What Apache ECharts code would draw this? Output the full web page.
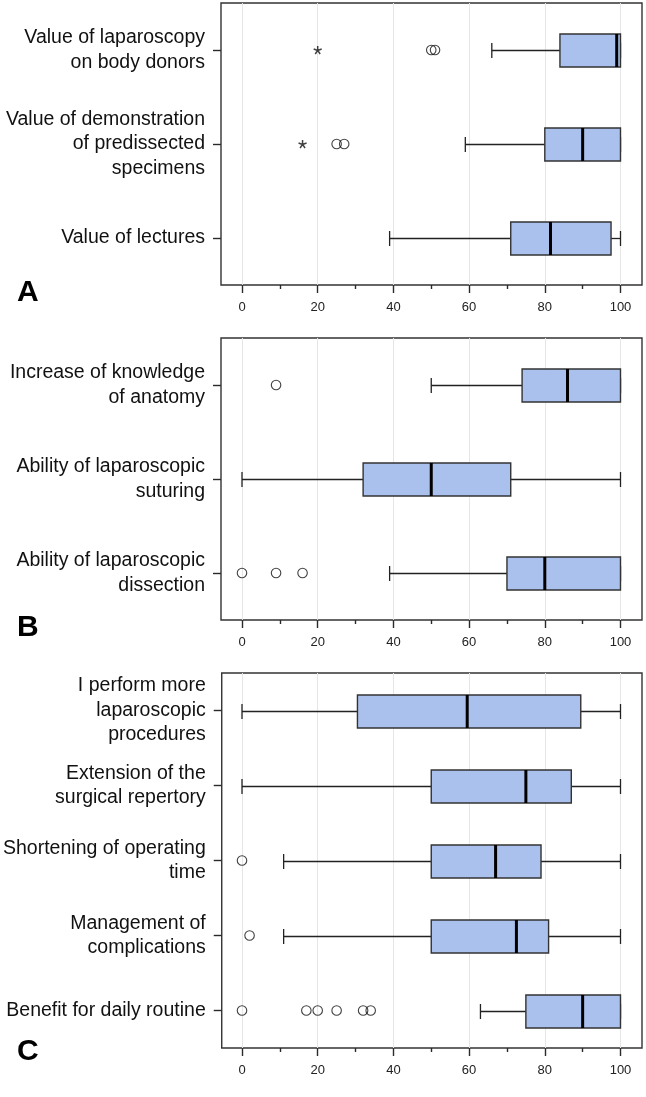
<!DOCTYPE html>
<html>
<head>
<meta charset="utf-8">
<script src="https://cdn.jsdelivr.net/npm/echarts@6/dist/echarts.min.js"></script>
<style>
html,body{margin:0;padding:0;background:#fff;}
#chart{width:646px;height:1097px;}
</style>
</head>
<body>
<div id="chart"></div>
<script>
// ---------- DATA ----------
const xTicks = [0, 20, 40, 60, 80, 100];

const catsA = ['Value of laparoscopy\non body donors', 'Value of demonstration\nof predissected\nspecimens', 'Value of lectures'];
// [min whisker, Q1, median, Q3, max whisker]
const statsA = [[66, 84, 99, 100, 100], [59, 80, 90, 100, 100], [39, 71, 81.5, 97.5, 100]];
const outliersA = [[50, 0], [51, 0], [25, 1], [27, 1]];
const extremesA = [[20, 0], [16, 1]];

const catsB = ['Increase of knowledge\nof anatomy', 'Ability of laparoscopic\nsuturing', 'Ability of laparoscopic\ndissection'];
const statsB = [[50, 74, 86, 100, 100], [0, 32, 50, 71, 100], [39, 70, 80, 100, 100]];
const outliersB = [[9, 0], [0, 2], [9, 2], [16, 2]];
const extremesB = [];

const catsC = ['I perform more\nlaparoscopic\nprocedures', 'Extension of the\nsurgical repertory', 'Shortening of operating\ntime', 'Management of\ncomplications', 'Benefit for daily routine'];
const statsC = [[0, 30.5, 59.5, 89.5, 100], [0, 50, 75, 87, 100], [11, 50, 67, 79, 100], [11, 50, 72.5, 81, 100], [63, 75, 90, 100, 100]];
const outliersC = [[0, 2], [2, 3], [0, 4], [17, 4], [20, 4], [25, 4], [32, 4], [34, 4]];
const extremesC = [];

const panelLetters = ['A', 'B', 'C'];

// ---------- LAYOUT / STYLE ----------
const FONT = '"Liberation Sans", Arial, Helvetica, sans-serif';
const panels = [
  {cats: catsA, stats: statsA, out: outliersA, ext: extremesA, top: 3, height: 282, letterY: 292.5},
  {cats: catsB, stats: statsB, out: outliersB, ext: extremesB, top: 338, height: 282, letterY: 628},
  {cats: catsC, stats: statsC, out: outliersC, ext: extremesC, top: 673, height: 375, letterY: 1052}
];
const BOX_H = 33, CAP_H = 15;
const LINE = '#222';
const AX = '#2a2a2a';

function renderBox(params, api) {
  const c = api.value(0);
  const lo = api.coord([api.value(1), c]);
  const q1 = api.coord([api.value(2), c]);
  const md = api.coord([api.value(3), c]);
  const q3 = api.coord([api.value(4), c]);
  const hi = api.coord([api.value(5), c]);
  const y = Math.round(lo[1]) + 0.5;
  const ls = {stroke: LINE, lineWidth: 1.3};
  return {
    type: 'group',
    children: [
      {type: 'line', shape: {x1: lo[0], y1: y, x2: q1[0], y2: y}, style: ls},
      {type: 'line', shape: {x1: q3[0], y1: y, x2: hi[0], y2: y}, style: ls},
      {type: 'line', shape: {x1: lo[0], y1: y - CAP_H / 2, x2: lo[0], y2: y + CAP_H / 2}, style: ls},
      {type: 'line', shape: {x1: hi[0], y1: y - CAP_H / 2, x2: hi[0], y2: y + CAP_H / 2}, style: ls},
      {type: 'rect', shape: {x: q1[0], y: y - BOX_H / 2, width: q3[0] - q1[0], height: BOX_H},
       style: {fill: '#a9c1ec', stroke: '#333', lineWidth: 1.4}},
      {type: 'line', shape: {x1: md[0], y1: y - BOX_H / 2, x2: md[0], y2: y + BOX_H / 2},
       style: {stroke: '#000', lineWidth: 3}}
    ]
  };
}

const starPath = 'path://M5,5L5,0M5,5L9.76,3.45M5,5L7.94,9.05M5,5L2.06,9.05M5,5L0.24,3.45';

const grid = [], xAxis = [], yAxis = [], series = [], graphic = [];
panels.forEach((p, i) => {
  const fi = 2 * i, di = 2 * i + 1;
  grid.push({left: 221, right: 4, top: p.top, height: p.height, show: true,
             borderColor: '#333', borderWidth: 1.4, backgroundColor: 'transparent'});
  grid.push({left: 242, right: 25.5, top: p.top, height: p.height});
  // frame axes
  xAxis.push({gridIndex: fi, type: 'value', min: 0, max: 1, show: false});
  yAxis.push({gridIndex: fi, type: 'category', data: p.cats, inverse: true,
    axisLine: {show: false},
    axisTick: {show: true, alignWithLabel: true, length: 8, lineStyle: {color: AX, width: 1.4}},
    axisLabel: {fontFamily: FONT, fontSize: 19.5, lineHeight: 24.5, color: '#111', margin: 16, align: 'right'},
    splitLine: {show: false}});
  // data axes
  xAxis.push({gridIndex: di, type: 'value', min: 0, max: 100, interval: 20,
    axisLine: {show: false},
    axisTick: {show: true, length: 8, lineStyle: {color: AX, width: 1.4}},
    minorTick: {show: true, splitNumber: 2, length: 4, lineStyle: {color: AX, width: 1.4}},
    axisLabel: {fontFamily: FONT, fontSize: 13, color: '#222', margin: 16,
      customValues: xTicks},
    splitLine: {show: true, lineStyle: {color: '#e6e6e6', width: 1}},
    minorSplitLine: {show: false}});
  yAxis.push({gridIndex: di, type: 'category', data: p.cats, inverse: true, show: false});

  series.push({
    type: 'custom', xAxisIndex: di, yAxisIndex: di,
    renderItem: renderBox,
    encode: {x: [1, 2, 3, 4, 5], y: 0},
    data: p.stats.map((s, k) => [k].concat(s)),
    clip: false, silent: true
  });
  series.push({
    type: 'scatter', xAxisIndex: di, yAxisIndex: di,
    symbol: 'circle', symbolSize: 9.5, clip: false, silent: true,
    itemStyle: {color: 'rgba(255,255,255,0)', borderColor: '#111', borderWidth: 1.1},
    data: p.out
  });
  if (p.ext.length) {
    series.push({
      type: 'scatter', xAxisIndex: di, yAxisIndex: di,
      symbol: starPath, symbolSize: 8, clip: false, silent: true,
      itemStyle: {color: 'none', borderColor: '#111', borderWidth: 1.5},
      data: p.ext
    });
  }
  graphic.push({type: 'text', x: 17, y: p.letterY,
    style: {text: panelLetters[i], font: 'bold 30px ' + FONT, fill: '#000', verticalAlign: 'middle'}});
});

const chart = echarts.init(document.getElementById('chart'), null, {renderer: 'canvas'});
chart.setOption({
  backgroundColor: '#fff',
  animation: false,
  grid, xAxis, yAxis, series, graphic
});
</script>
</body>
</html>
